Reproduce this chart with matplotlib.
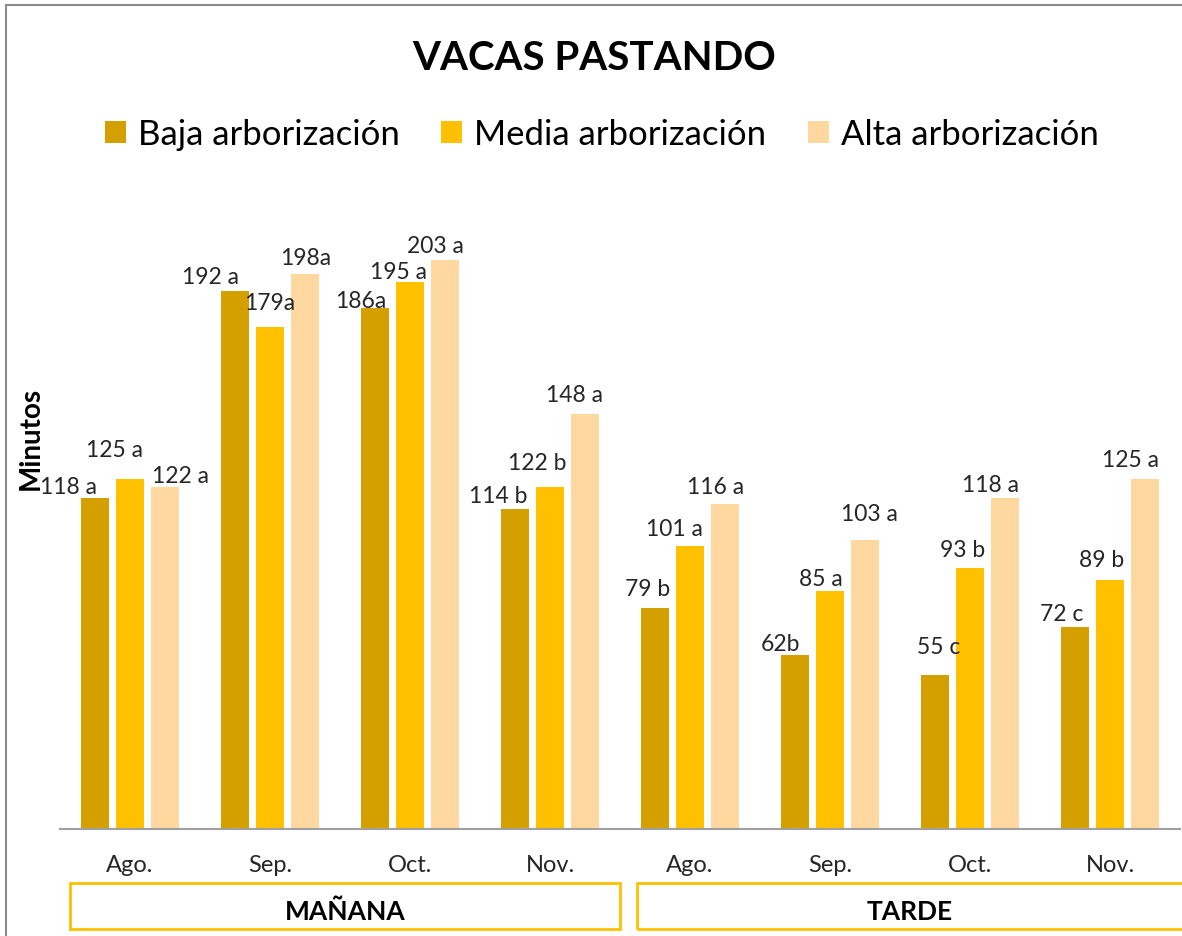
import matplotlib
matplotlib.use("Agg")
import numpy as np
import matplotlib.pyplot as plt
from matplotlib.patches import Rectangle, Patch
from matplotlib.lines import Line2D

plt.rcParams["font.family"] = ["Lato", "DejaVu Sans"]

# ── data ──────────────────────────────────────────────────────────────────────
MONTHS = ["Ago.", "Sep.", "Oct.", "Nov.", "Ago.", "Sep.", "Oct.", "Nov."]
PERIODS = ["MAÑANA", "TARDE"]
SERIES = ["Baja arborización", "Media arborización", "Alta arborización"]

baja = [118, 192, 186, 114, 79, 62, 55, 72]
media = [125, 179, 195, 122, 101, 85, 93, 89]
alta = [122, 198, 203, 148, 116, 103, 118, 125]

baja_lbl = ["118 a", "192 a", "186a", "114 b", "79 b", "62b", "55 c", "72 c"]
media_lbl = ["125 a", "179a", "195 a", "122 b", "101 a", "85 a", "93 b", "89 b"]
alta_lbl = ["122 a", "198a", "203 a", "148 a", "116 a", "103 a", "118 a", "125 a"]

# ── style ─────────────────────────────────────────────────────────────────────
COLOURS = ["#D4A000", "#FFC000", "#FFD8A0"]
BOX_COL = "#FFC000"
W, H = 1182, 937

# hand-placed label offsets (pixels from bar top), as in the original
baja_off = [(-27, 12), (-24, 14), (-14, 7), (-17, 14), (-7, 19), (-15, 12), (4, 28), (-13, 14)]
media_off = [(-15, 29), (0, 25), (-12, 11), (-13, 25), (-16, 17), (-9, 12), (-7, 19), (-8, 20)]
alta_off = [(15, 12), (1, 17), (-10, 15), (-10, 20), (-9, 17), (4, 27), (-15, 14), (-15, 19)]

fig = plt.figure(figsize=(W / 100, H / 100), dpi=100)

def fx(px):
    return px / W

def fy(py):
    return 1 - py / H

ax = fig.add_axes([fx(60), fy(830), fx(1120), 625 / H])
x = np.arange(len(MONTHS))
step, bw = 0.25, 0.193

for j, (vals, lbls, offs) in enumerate(zip([baja, media, alta],
                                          [baja_lbl, media_lbl, alta_lbl],
                                          [baja_off, media_off, alta_off])):
    pos = x + (j - 1) * step
    ax.bar(pos, vals, width=bw, color=COLOURS[j], label=SERIES[j])
    for p, v, t, (dx, dy) in zip(pos, vals, lbls, offs):
        ax.annotate(t, (p, v), xytext=(dx, dy), textcoords="offset pixels",
                    ha="center", va="center", fontsize=16.5, color="#262626")

ax.set_xlim(-0.5, 7.5)
ax.set_ylim(0, 223)
ax.set_yticks([])
ax.set_xticks(x)
ax.set_xticklabels(MONTHS, fontsize=17, color="#262626")
ax.tick_params(axis="x", length=0, pad=18)
for s in ("top", "right", "left"):
    ax.spines[s].set_visible(False)
ax.spines["bottom"].set_color("#A0A0A0")
ax.spines["bottom"].set_linewidth(1.5)

# y label
fig.text(fx(31), fy(438), "Minutos", rotation=90, ha="center", va="center",
         fontsize=20, fontweight="bold")

# title
fig.text(fx(594), fy(58), "VACAS PASTANDO", ha="center", va="center",
         fontsize=29, fontweight="bold")

# legend
handles = [Patch(facecolor=c, label=s) for c, s in zip(COLOURS, SERIES)]
fig.legend(handles=handles, loc="center", bbox_to_anchor=(fx(602), fy(135)),
           ncol=3, frameon=False, fontsize=25, handlelength=0.6,
           handleheight=0.6, handletextpad=0.35, columnspacing=1.2)

# period boxes
for (x0, x1), cx, name in zip([(70, 620), (637, 1195)], [345, 910], PERIODS):
    fig.add_artist(Rectangle((fx(x0), fy(930)), fx(x1 - x0), 46 / H,
                             transform=fig.transFigure, fill=False,
                             edgecolor=BOX_COL, linewidth=2))
    fig.text(fx(cx), fy(912), name, ha="center", va="center",
             fontsize=19, fontweight="bold")

# chart frame (left and top edges only show in the crop)
fig.add_artist(Line2D([fx(6), fx(6)], [0, fy(6)], transform=fig.transFigure,
                      color="#8C8C8C", linewidth=1.5))
fig.add_artist(Line2D([fx(6), 1], [fy(6), fy(6)], transform=fig.transFigure,
                      color="#8C8C8C", linewidth=1.5))

fig.savefig("out.png", dpi=100)
